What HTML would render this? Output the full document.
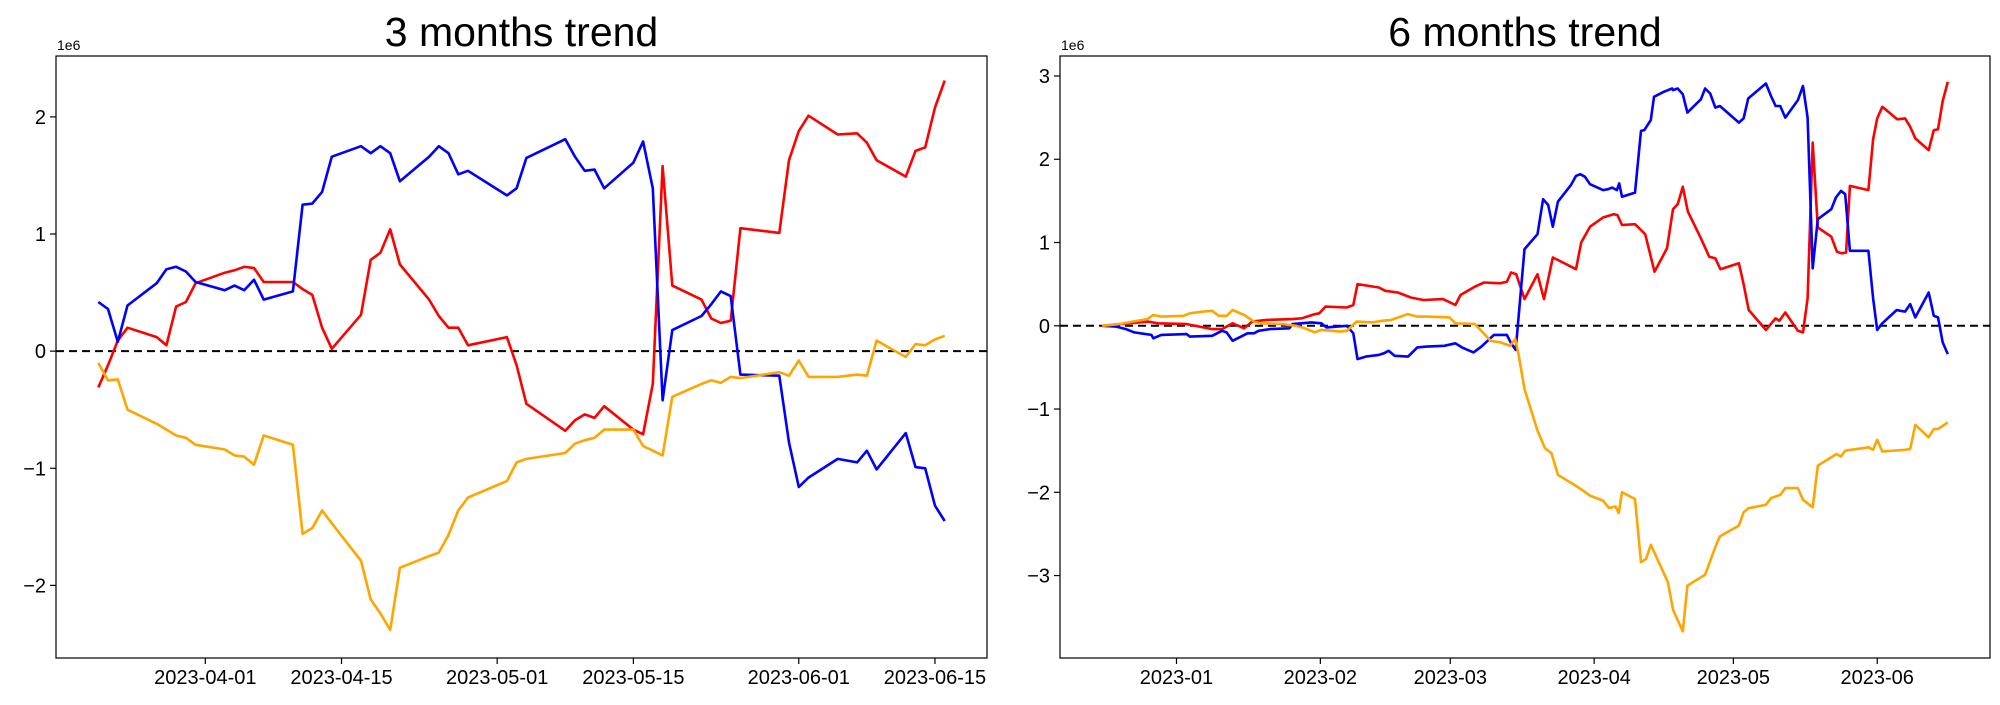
<!DOCTYPE html>
<html><head><meta charset="utf-8"><style>
body{margin:0;background:#fff;width:2000px;height:700px;overflow:hidden}
svg text{font-family:"Liberation Sans","DejaVu Sans",sans-serif;fill:#000}
</style></head><body>
<svg id="c" width="2000" height="700" viewBox="0 0 2000 700" xmlns="http://www.w3.org/2000/svg"></svg>
<script>
// ---- 3 months chart data (day offsets from 2023-03-21, values in 1e6) ----
const days3 = [0,1,2,3,6,7,8,9,10,13,14,15,16,17,20,21,22,23,24,27,28,29,30,31,34,35,36,37,38,42,43,44,48,49,50,51,52,55,56,57,58,59,62,63,64,65,66,70,71,72,73,76,78,79,80,83,84,85,86,87];
const red3 = [-0.31,-0.12,0.09,0.20,0.12,0.05,0.38,0.42,0.58,0.67,0.69,0.72,0.71,0.59,0.59,0.53,0.48,0.20,0.02,0.31,0.78,0.84,1.04,0.74,0.44,0.30,0.20,0.20,0.05,0.12,-0.12,-0.45,-0.68,-0.59,-0.54,-0.57,-0.47,-0.67,-0.71,-0.28,1.58,0.56,0.44,0.28,0.24,0.26,1.05,1.01,1.63,1.88,2.01,1.85,1.86,1.78,1.63,1.49,1.71,1.74,2.08,2.31];
const blue3 = [0.42,0.36,0.08,0.39,0.58,0.70,0.72,0.68,0.59,0.52,0.56,0.52,0.61,0.44,0.51,1.25,1.26,1.36,1.66,1.75,1.69,1.75,1.69,1.45,1.66,1.75,1.69,1.51,1.54,1.33,1.39,1.65,1.81,1.66,1.54,1.55,1.39,1.61,1.79,1.39,-0.42,0.18,0.30,0.40,0.51,0.47,-0.20,-0.21,-0.78,-1.16,-1.08,-0.92,-0.95,-0.85,-1.01,-0.70,-0.99,-1.00,-1.32,-1.45];
const orange3 = [-0.10,-0.25,-0.24,-0.50,-0.62,-0.67,-0.72,-0.74,-0.80,-0.84,-0.89,-0.90,-0.97,-0.72,-0.80,-1.56,-1.51,-1.36,-1.47,-1.79,-2.12,-2.24,-2.38,-1.85,-1.75,-1.72,-1.57,-1.36,-1.25,-1.11,-0.95,-0.92,-0.87,-0.79,-0.76,-0.74,-0.67,-0.67,-0.81,-0.85,-0.89,-0.39,-0.28,-0.25,-0.27,-0.22,-0.23,-0.18,-0.21,-0.08,-0.22,-0.22,-0.20,-0.21,0.09,-0.05,0.06,0.05,0.10,0.13];
const xTicks3 = [11,25,41,55,72,86];
const xLabels3 = ["2023-04-01","2023-04-15","2023-05-01","2023-05-15","2023-06-01","2023-06-15"];
const yTicks3 = [-2,-1,0,1,2];

// ---- 6 months chart data (day offsets from 2022-12-16, values in 1e6) ----
const redDays6 = [0,9.9,12,18.2,23.7,25.8,28.1,30.6,32.3,35.4,41,43,45.8,46.8,48.1,52.7,54.1,55,59.6,61,63.7,66.5,69.2,73.4,76.1,77.2,80.3,82.3,85.8,87.2,88.1,89.2,91,93.8,95.2,97.1,98.2,102.1,103.2,105.1,107.9,110.2,111,112,114.8,117,119,121.7,123,124,125.1,126.2,129,130.8,132.1,133.2,137.2,138.2,139.3,143,145.1,145.9,147.2,149.9,151,152,153.1,154.2,157.1,158.3,159.3,160.3,161.1,165.1,166.1,167,168.1,171.3,173,174.1,175.2,178.1,179.2,180.1,181.1,182.2];
const red6 = [0,0.05,0.03,0.02,-0.04,-0.04,0.03,-0.03,0.05,0.07,0.08,0.09,0.14,0.15,0.23,0.22,0.25,0.50,0.46,0.42,0.40,0.34,0.31,0.32,0.25,0.37,0.47,0.52,0.51,0.53,0.64,0.62,0.32,0.62,0.32,0.82,0.79,0.68,1.00,1.19,1.30,1.34,1.33,1.21,1.22,1.10,0.65,0.93,1.40,1.46,1.67,1.37,1.05,0.83,0.81,0.68,0.75,0.50,0.19,-0.05,0.09,0.06,0.16,-0.06,-0.08,0.33,2.20,1.18,1.07,0.89,0.87,0.88,1.68,1.63,2.24,2.49,2.63,2.48,2.49,2.39,2.25,2.11,2.35,2.36,2.70,2.93];
const blueDays6 = [0,3,5.1,6.9,10.6,11,12.7,18.2,18.9,23.7,25.8,26.8,28.1,31.3,32.7,33.7,36.1,40.3,41,45.1,47.2,48.3,52.7,54.1,55,56.8,59.6,60.7,61.7,63,65.9,67.9,69.9,73.7,76.1,77.5,80,81.7,84.4,87.2,88.1,89.1,91,93.8,95,96.1,97.1,98.2,101,102.1,103,104,105.1,107.9,109,109.9,110.9,111.4,112,114.8,116.1,116.8,118.2,118.9,121,122.8,123,124,125.1,126.1,129,129.9,131,132.1,133.1,137.2,138.2,139.2,143,144.1,145.1,146.1,147.2,149.9,151,152,153.1,154.2,157.1,158.1,159.2,160.1,161.1,165.1,166.1,167,168.1,171.2,172,173,174.1,175.2,178.1,179.2,180.1,181.1,182.2];
const blue6 = [0,-0.01,-0.04,-0.08,-0.11,-0.15,-0.11,-0.10,-0.13,-0.12,-0.06,-0.08,-0.18,-0.09,-0.09,-0.06,-0.04,-0.03,0.02,0.04,0.03,-0.02,0.00,-0.09,-0.40,-0.37,-0.35,-0.33,-0.30,-0.36,-0.37,-0.26,-0.25,-0.24,-0.21,-0.26,-0.32,-0.25,-0.11,-0.11,-0.21,-0.29,0.92,1.10,1.52,1.45,1.19,1.49,1.69,1.80,1.82,1.79,1.70,1.63,1.64,1.66,1.63,1.71,1.55,1.60,2.34,2.35,2.47,2.75,2.81,2.85,2.83,2.85,2.78,2.56,2.72,2.85,2.79,2.62,2.64,2.44,2.49,2.73,2.91,2.76,2.64,2.64,2.50,2.71,2.88,2.50,0.69,1.28,1.40,1.54,1.62,1.58,0.90,0.90,0.33,-0.05,0.03,0.19,0.18,0.17,0.26,0.10,0.40,0.12,0.10,-0.20,-0.34];
const orangeDays6 = [0,3.7,6.5,9.7,11,12.7,17.5,18.9,21.7,23.7,25.1,26.8,28.1,30.6,32.7,34.1,38.9,41.7,43.7,45.8,47.2,51.3,52.7,54.8,58.2,60.3,62.3,65.8,67.9,69.9,74.8,76.1,80.3,83.7,85.8,87.9,89,89.7,91,93.8,95.4,96.8,98.2,102.3,105.1,107.9,109.2,110.6,111.3,112,114.8,116.1,117.2,118.2,121.9,123,125.1,126.1,129.9,132.3,133.1,137.2,138.2,139.3,143,144.1,146.1,147.2,149.9,151,153.1,154.2,158.2,159.2,160.1,165.1,166.1,167,168.1,173,174.1,175.2,178.1,179.2,180.1,182.2];
const orange6 = [0,0.02,0.05,0.08,0.13,0.11,0.12,0.15,0.17,0.18,0.12,0.12,0.19,0.13,0.05,0.03,0.02,0.00,-0.03,-0.08,-0.05,-0.07,-0.06,0.05,0.04,0.06,0.07,0.14,0.11,0.11,0.10,0.03,0.02,-0.18,-0.20,-0.24,-0.16,-0.34,-0.76,-1.26,-1.47,-1.53,-1.79,-1.93,-2.04,-2.10,-2.19,-2.17,-2.25,-2.00,-2.08,-2.84,-2.80,-2.63,-3.08,-3.41,-3.67,-3.12,-2.99,-2.63,-2.53,-2.40,-2.24,-2.19,-2.15,-2.07,-2.03,-1.95,-1.95,-2.09,-2.18,-1.68,-1.54,-1.57,-1.50,-1.46,-1.49,-1.37,-1.51,-1.49,-1.48,-1.19,-1.34,-1.24,-1.24,-1.16];
const xTicks6 = [16,47,75,106,136,167];
const xLabels6 = ["2023-01","2023-02","2023-03","2023-04","2023-05","2023-06"];
const yTicks6 = [-3,-2,-1,0,1,2,3];

const NS = "http://www.w3.org/2000/svg";
const svg = document.getElementById("c");
function mk(tag, attrs, parent){const e=document.createElementNS(NS,tag);for(const k in attrs)e.setAttribute(k,attrs[k]);(parent||svg).appendChild(e);return e;}

function chart(cfg){
  const g = mk("g",{});
  
  
  const L=cfg.left,R=cfg.right,T=56,B=658;
  const sx = d => L + (d - cfg.xmin)/(cfg.xmax-cfg.xmin)*(R-L);
  const sy = v => T + (cfg.ymax - v)/(cfg.ymax-cfg.ymin)*(B-T);
  const title = mk("text",{x:(L+R)/2,y:46,"text-anchor":"middle","font-size":41},g);
  title.textContent = cfg.title;
  
  
  const exp = mk("text",{x:L+1,y:50,"font-size":14},g);
  exp.textContent = "1e6";
  
  
  cfg.yTicks.forEach(v=>{
    const y=sy(v);
    mk("line",{x1:L-6,x2:L,y1:y,y2:y,stroke:"#000","stroke-width":1.2},g);
    const t=mk("text",{x:L-10,y:y+7,"text-anchor":"end","font-size":20},g);
    t.textContent = v<0 ? "\u2212"+Math.abs(v) : String(v);
    
    
  });
  cfg.xTicks.forEach((d,i)=>{
    const x=sx(d);
    mk("line",{x1:x,x2:x,y1:B,y2:B+6,stroke:"#000","stroke-width":1.2},g);
    const t=mk("text",{x:x,y:684,"text-anchor":"middle","font-size":20},g);
    t.textContent = cfg.xLabels[i];
    
    
  });
  const z = mk("line",{x1:L,x2:R,y1:sy(0),y2:sy(0),stroke:"#000","stroke-width":2,"stroke-dasharray":"8,5"},g);
  
  
  cfg.series.forEach(s=>{
    const pts = s.x.map((d,i)=>sx(d).toFixed(1)+","+sy(s.y[i]).toFixed(1)).join(" ");
    const p = mk("polyline",{points:pts,fill:"none",stroke:s.color,"stroke-width":2.6,"stroke-linejoin":"round"},g);
    
    
  });
  const frame = mk("rect",{x:L,y:T,width:R-L,height:B-T,fill:"none",stroke:"#000","stroke-width":1.2},g);
  
  
}

chart({name:"three-month-chart",title:"3 months trend",left:56,right:987,xmin:-4.35,xmax:91.35,ymin:-2.62,ymax:2.52,
  yTicks:yTicks3,xTicks:xTicks3,xLabels:xLabels3,
  series:[{name:"red-series-3m",color:"#ff0000",x:days3,y:red3},{name:"blue-series-3m",color:"#0000ff",x:days3,y:blue3},{name:"orange-series-3m",color:"#ffa500",x:days3,y:orange3}]});
chart({name:"six-month-chart",title:"6 months trend",left:1060,right:1990,xmin:-9.1,xmax:191.3,ymin:-3.99,ymax:3.24,
  yTicks:yTicks6,xTicks:xTicks6,xLabels:xLabels6,
  series:[{name:"red-series-6m",color:"#ff0000",x:redDays6,y:red6},{name:"blue-series-6m",color:"#0000ff",x:blueDays6,y:blue6},{name:"orange-series-6m",color:"#ffa500",x:orangeDays6,y:orange6}]});
</script>
</body></html>
